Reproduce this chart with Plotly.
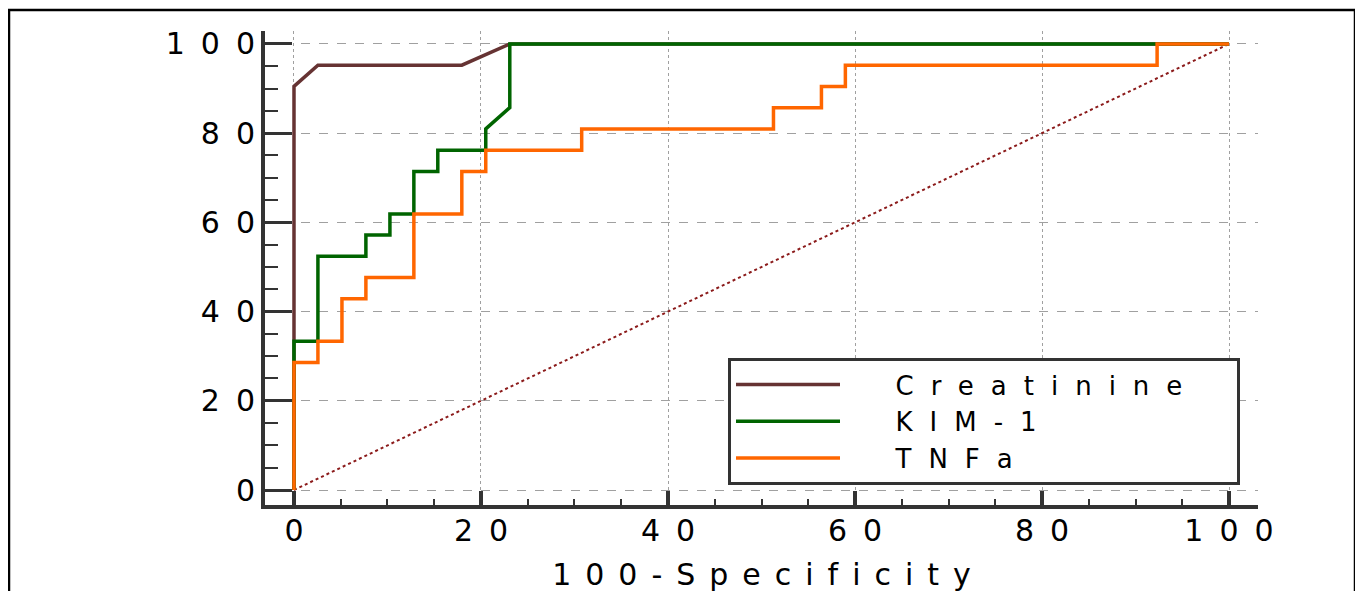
import plotly.graph_objects as go

# ---------------- data ----------------
creat_fpr = [0, 0, 2.56, 17.95, 23.08, 100]
creat_tpr = [0, 90.48, 95.24, 95.24, 100, 100]

kim_fpr = [0, 0, 2.56, 2.56, 7.69, 7.69, 10.26, 10.26, 12.82, 12.82, 15.38, 15.38,
           20.51, 20.51, 23.08, 23.08, 100]
kim_tpr = [0, 33.33, 33.33, 52.38, 52.38, 57.14, 57.14, 61.90, 61.90, 71.43, 71.43, 76.19,
           76.19, 80.95, 85.71, 100, 100]

tnf_fpr = [0, 0, 2.56, 2.56, 5.13, 5.13, 7.69, 7.69, 12.82, 12.82, 17.95, 17.95, 20.51,
           20.51, 30.77, 30.77, 51.28, 51.28, 56.41, 56.41, 58.97, 58.97, 92.31, 92.31, 100]
tnf_tpr = [0, 28.57, 28.57, 33.33, 33.33, 42.86, 42.86, 47.62, 47.62, 61.90, 61.90, 71.43,
           71.43, 76.19, 76.19, 80.95, 80.95, 85.71, 85.71, 90.48, 90.48, 95.24, 95.24, 100, 100]

diag_x = [0, 100]
diag_y = [0, 100]

series_names = ["Creatinine", "KIM-1", "TNFa"]
tick_values = [0, 20, 40, 60, 80, 100]
tick_labels = ["0", "20", "40", "60", "80", "100"]
x_title = "100-Specificity"

LS = 16
FONT = "DejaVu Sans"


def spaced(s, ls=LS, lead="", trail=""):
    if len(s) <= 1 and not lead:
        return s
    return "<span style='letter-spacing:%dpx'>%s%s</span>%s%s" % (ls, lead, s[:-1], s[-1], trail)


# plot-area geometry in figure pixels
L, R, T, B = 257, 1250, 23, 497
W, H = 1363, 591
PW, PH = R - L, B - T

fig = go.Figure()

fig.add_trace(go.Scatter(x=diag_x, y=diag_y, mode="lines", showlegend=False,
                         line=dict(color="#8B1A1A", width=2, dash="dot")))
fig.add_trace(go.Scatter(x=creat_fpr, y=creat_tpr, mode="lines",
                         name=spaced(series_names[0], 17, "  ", "      "),
                         line=dict(color="#663333", width=3.5)))
fig.add_trace(go.Scatter(x=kim_fpr, y=kim_tpr, mode="lines",
                         name=spaced(series_names[1], 17, "  "),
                         line=dict(color="#006400", width=3.5)))
fig.add_trace(go.Scatter(x=tnf_fpr, y=tnf_tpr, mode="lines",
                         name=spaced(series_names[2], 17, "  "),
                         line=dict(color="#FF6600", width=3.5)))

axis_common = dict(
    tickmode="array", tickvals=tick_values, ticktext=[spaced(t) for t in tick_labels],
    showline=True, linecolor="#333333", linewidth=4,
    ticks="inside", tickcolor="#333333",
    showgrid=True, gridcolor="#A0A0A0", gridwidth=1,
    zeroline=False,
    tickfont=dict(family=FONT, size=30, color="black"),
)

fig.update_xaxes(**axis_common, range=[-3.1, 103.1], ticklen=14, tickwidth=4, griddash="dot",
                 minor=dict(tickmode="linear", tick0=0, dtick=5, ticks="inside", ticklen=6,
                            tickwidth=2, tickcolor="#333333", showgrid=False),
                 ticklabelstandoff=-4,
                 title=dict(text=spaced(x_title, 14),
                            font=dict(family=FONT, size=30, color="black"),
                            standoff=18))
fig.update_yaxes(**axis_common, range=[-3.36, 102.9], ticklen=27, tickwidth=3, griddash="dash",
                 minor=dict(tickmode="linear", tick0=0, dtick=5, ticks="inside", ticklen=13,
                            tickwidth=2, tickcolor="#333333", showgrid=False),
                 ticklabelstandoff=0)

# outer frame
fig.add_shape(type="rect", xref="paper", yref="paper",
              x0=(1 - L) / PW, x1=(1347 - L) / PW,
              y0=(B - 640) / PH, y1=(B - 2) / PH,
              line=dict(color="black", width=2.5), layer="below")

fig.update_layout(
    width=W, height=H,
    margin=dict(l=L, r=W - R, t=T, b=H - B, autoexpand=False),
    paper_bgcolor="white", plot_bgcolor="white",
    font=dict(family=FONT, size=30, color="black"),
    showlegend=True,
    legend=dict(x=(720 - L) / PW, y=(B - 350) / PH, xanchor="left", yanchor="top",
                bordercolor="#333333", borderwidth=3, bgcolor="white",
                font=dict(family=FONT, size=26, color="black"),
                itemwidth=104, tracegroupgap=0),
)

fig.write_html("out.html")
